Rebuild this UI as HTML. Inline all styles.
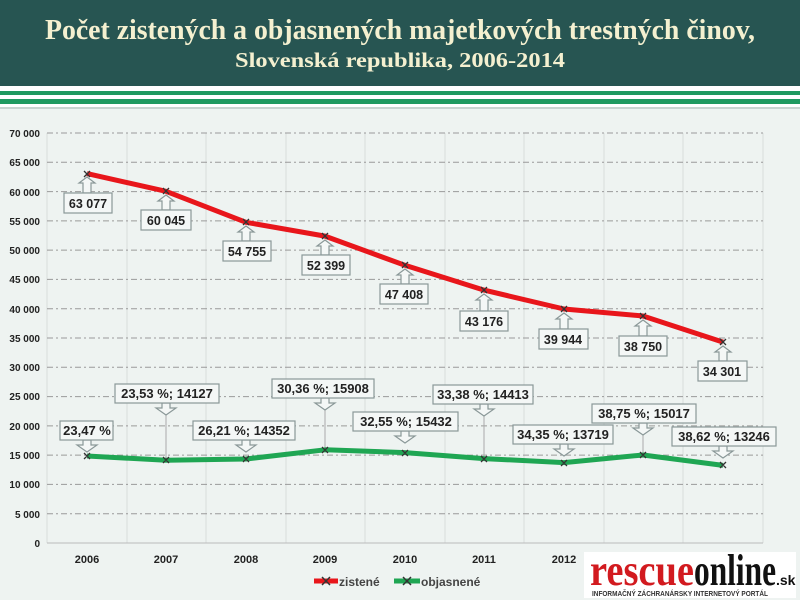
<!DOCTYPE html>
<html><head><meta charset="utf-8"><style>
body{margin:0;width:800px;height:600px;overflow:hidden;background:#eef3f1;font-family:"Liberation Sans",sans-serif}
</style></head><body>
<svg width="800" height="600" xmlns="http://www.w3.org/2000/svg" style="position:absolute;left:0;top:0">
<rect x="0" y="0" width="800" height="86" fill="#275552"/>
<text x="400" y="39" text-anchor="middle" font-family="Liberation Serif" font-weight="bold" font-size="29" fill="#f4f0d0" textLength="710" lengthAdjust="spacingAndGlyphs">Počet zistených a objasnených majetkových trestných činov,</text>
<text x="400" y="67" text-anchor="middle" font-family="Liberation Serif" font-weight="bold" font-size="21" fill="#f4f0d0" textLength="330" lengthAdjust="spacingAndGlyphs">Slovenská republika, 2006-2014</text>
<rect x="0" y="86" width="800" height="22" fill="#ffffff"/>
<rect x="0" y="91" width="800" height="4" fill="#1f9a60"/>
<rect x="0" y="99" width="800" height="5" fill="#1f9a60"/>
<rect x="0" y="107" width="800" height="2" fill="#c8d4d0"/>
<rect x="0" y="109" width="800" height="491" fill="#eef3f1"/>
<g stroke="#d8dcdc" stroke-width="1">
<line x1="47" y1="133" x2="47" y2="543"/><line x1="127" y1="133" x2="127" y2="543"/><line x1="206" y1="133" x2="206" y2="543"/><line x1="286" y1="133" x2="286" y2="543"/><line x1="365" y1="133" x2="365" y2="543"/><line x1="445" y1="133" x2="445" y2="543"/><line x1="524" y1="133" x2="524" y2="543"/><line x1="604" y1="133" x2="604" y2="543"/><line x1="683" y1="133" x2="683" y2="543"/><line x1="763" y1="133" x2="763" y2="543"/>
</g>
<g stroke="#9a9a9a" stroke-width="1" stroke-dasharray="6,3,2,3">
<line x1="47" y1="133" x2="763" y2="133"/><line x1="47" y1="162.3" x2="763" y2="162.3"/><line x1="47" y1="191.6" x2="763" y2="191.6"/><line x1="47" y1="220.9" x2="763" y2="220.9"/><line x1="47" y1="250.1" x2="763" y2="250.1"/><line x1="47" y1="279.4" x2="763" y2="279.4"/><line x1="47" y1="308.7" x2="763" y2="308.7"/><line x1="47" y1="338" x2="763" y2="338"/><line x1="47" y1="367.3" x2="763" y2="367.3"/><line x1="47" y1="396.6" x2="763" y2="396.6"/><line x1="47" y1="425.9" x2="763" y2="425.9"/><line x1="47" y1="455.1" x2="763" y2="455.1"/><line x1="47" y1="484.4" x2="763" y2="484.4"/><line x1="47" y1="513.7" x2="763" y2="513.7"/>
</g>
<line x1="47" y1="543" x2="763" y2="543" stroke="#bbb"/>
<g font-size="10" font-weight="bold" fill="#222" text-anchor="end">
<text x="40" y="137">70 000</text><text x="40" y="166">65 000</text><text x="40" y="196">60 000</text><text x="40" y="225">55 000</text><text x="40" y="254">50 000</text><text x="40" y="283">45 000</text><text x="40" y="313">40 000</text><text x="40" y="342">35 000</text><text x="40" y="371">30 000</text><text x="40" y="400">25 000</text><text x="40" y="430">20 000</text><text x="40" y="459">15 000</text><text x="40" y="488">10 000</text><text x="40" y="518">5 000</text><text x="40" y="547">0</text>
</g>
<g font-size="11" font-weight="bold" fill="#222" text-anchor="middle">
<text x="87" y="563">2006</text><text x="166" y="563">2007</text><text x="246" y="563">2008</text><text x="325" y="563">2009</text><text x="405" y="563">2010</text><text x="484" y="563">2011</text><text x="564" y="563">2012</text><text x="643" y="563">2013</text><text x="723" y="563">2014</text>
</g>
<g stroke="#aaa" stroke-width="1">
<line x1="166" y1="415" x2="166" y2="460"/><line x1="325" y1="410" x2="325" y2="450"/><line x1="484" y1="416" x2="484" y2="458"/><line x1="643" y1="435" x2="643" y2="455"/>
</g>
<polyline fill="none" stroke="#e8161b" stroke-width="5" stroke-linejoin="round" points="87,173.6 166,191.3 246,222.3 325,236.1 405,265.3 484,290.1 564,309 643,316 723,342.1"/>
<polyline fill="none" stroke="#1fa653" stroke-width="5" stroke-linejoin="round" points="87,456 166,460.3 246,459 325,449.8 405,452.6 484,458.6 564,462.6 643,455 723,465.4"/>
<g stroke="#333" stroke-width="1.3">
<path d="M84,171l6,6M90,171l-6,6M163,188l6,6M169,188l-6,6M243,219l6,6M249,219l-6,6M322,233l6,6M328,233l-6,6M402,262l6,6M408,262l-6,6M481,287l6,6M487,287l-6,6M561,306l6,6M567,306l-6,6M640,313l6,6M646,313l-6,6M720,339l6,6M726,339l-6,6"/>
<path d="M84,453l6,6M90,453l-6,6M163,457l6,6M169,457l-6,6M243,456l6,6M249,456l-6,6M322,447l6,6M328,447l-6,6M402,450l6,6M408,450l-6,6M481,456l6,6M487,456l-6,6M561,460l6,6M567,460l-6,6M640,452l6,6M646,452l-6,6M720,462l6,6M726,462l-6,6"/>
</g>
<g fill="#f4f7f6" stroke="#8a9898" stroke-width="1.2">
<path d="M87,177l8,6h-4v10h-8v-10h-4z"/><rect x="64" y="193" width="48" height="20"/>
<path d="M166,195l8,6h-4v9h-8v-9h-4z"/><rect x="141" y="210" width="50" height="20"/>
<path d="M246,226l8,6h-4v9h-8v-9h-4z"/><rect x="223" y="241" width="48" height="20"/>
<path d="M325,240l8,6h-4v9h-8v-9h-4z"/><rect x="302" y="255" width="48" height="20"/>
<path d="M405,269l8,6h-4v9h-8v-9h-4z"/><rect x="380" y="284" width="48" height="20"/>
<path d="M484,294l8,6h-4v11h-8v-11h-4z"/><rect x="460" y="311" width="48" height="20"/>
<path d="M564,313l8,6h-4v10h-8v-10h-4z"/><rect x="539" y="329" width="49" height="20"/>
<path d="M643,320l8,6h-4v10h-8v-10h-4z"/><rect x="619" y="336" width="48" height="20"/>
<path d="M723,346l8,6h-4v9h-8v-9h-4z"/><rect x="698" y="361" width="49" height="20"/>
</g>
<g font-size="12.5" font-weight="bold" fill="#222" text-anchor="middle">
<text x="88" y="208">63 077</text><text x="166" y="225">60 045</text><text x="247" y="256">54 755</text><text x="326" y="270">52 399</text><text x="404" y="299">47 408</text><text x="484" y="326">43 176</text><text x="563" y="344">39 944</text><text x="643" y="351">38 750</text><text x="722" y="376">34 301</text>
</g>
<g fill="#f4f7f6" stroke="#8a9898" stroke-width="1.2">
<path d="M83,440v5h-6l10,7l10,-7h-6v-5z"/><rect x="60" y="421" width="53" height="19"/>
<path d="M162,403v5h-6l10,7l10,-7h-6v-5z"/><rect x="115" y="384" width="104" height="19"/>
<path d="M242,440v5h-6l10,7l10,-7h-6v-5z"/><rect x="193" y="421" width="102" height="19"/>
<path d="M321,398v5h-6l10,7l10,-7h-6v-5z"/><rect x="272" y="379" width="102" height="19"/>
<path d="M401,431v5h-6l10,7l10,-7h-6v-5z"/><rect x="353" y="412" width="105" height="19"/>
<path d="M480,404v5h-6l10,7l10,-7h-6v-5z"/><rect x="433" y="385" width="100" height="19"/>
<path d="M560,444v5h-6l10,7l10,-7h-6v-5z"/><rect x="513" y="425" width="100" height="19"/>
<path d="M639,423v5h-6l10,7l10,-7h-6v-5z"/><rect x="592" y="404" width="104" height="19"/>
<path d="M719,446v5h-6l10,7l10,-7h-6v-5z"/><rect x="672" y="427" width="104" height="19"/>
</g>
<g font-size="13" font-weight="bold" fill="#222" text-anchor="middle">
<text x="87" y="435">23,47 %</text><text x="167" y="398">23,53 %; 14127</text><text x="244" y="435">26,21 %; 14352</text><text x="323" y="393">30,36 %; 15908</text><text x="406" y="426">32,55 %; 15432</text><text x="483" y="399">33,38 %; 14413</text><text x="563" y="439">34,35 %; 13719</text><text x="644" y="418">38,75 %; 15017</text><text x="724" y="441">38,62 %; 13246</text>
</g>
<line x1="314" y1="581" x2="338" y2="581" stroke="#e8161b" stroke-width="5"/>
<path d="M322,577l8,8M330,577l-8,8" stroke="#333" stroke-width="1.5"/>
<text x="339" y="586" font-size="12" font-weight="bold" fill="#444">zistené</text>
<line x1="394" y1="581" x2="420" y2="581" stroke="#1fa653" stroke-width="5"/>
<path d="M403,577l8,8M411,577l-8,8" stroke="#333" stroke-width="1.5"/>
<text x="421" y="586" font-size="12" font-weight="bold" fill="#444">objasnené</text>
<rect x="584" y="552" width="212" height="46" fill="#ffffff"/>
<text x="590" y="585" font-family="Liberation Serif" font-weight="bold" font-size="44" fill="#d21a1f" textLength="104" lengthAdjust="spacingAndGlyphs">rescue</text>
<text x="694" y="585" font-family="Liberation Serif" font-weight="bold" font-size="44" fill="#111" textLength="82" lengthAdjust="spacingAndGlyphs">online</text>
<text x="776" y="585" font-family="Liberation Sans" font-weight="bold" font-size="14" fill="#111">.sk</text>
<text x="592" y="596" font-family="Liberation Sans" font-weight="bold" font-size="7" fill="#333" textLength="176" lengthAdjust="spacingAndGlyphs">INFORMAČNÝ ZÁCHRANÁRSKY INTERNETOVÝ PORTÁL</text>
</svg>
</body></html>
